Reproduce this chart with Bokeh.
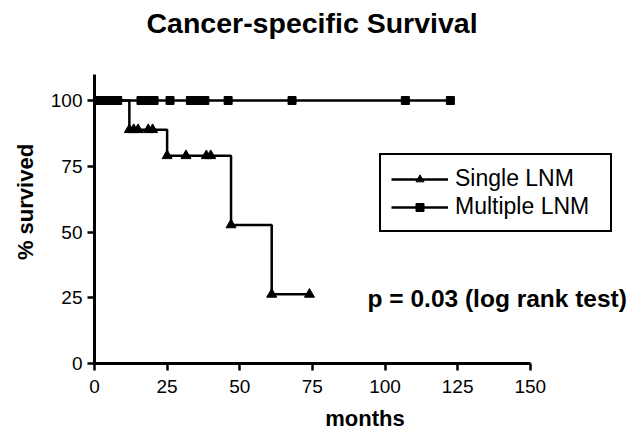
from bokeh.plotting import figure
from bokeh.models import Range1d, Legend, LegendItem, FixedTicker, Label
from bokeh.embed import file_html
from bokeh.resources import INLINE

# ---- data ----
chart_title = "Cancer-specific Survival"
x_label = "months"
y_label = "% survived"
p_text = "p = 0.03 (log rank test)"
series_names = ["Single LNM", "Multiple LNM"]

single_step_t = [0, 12, 25, 47, 61, 74]
single_step_s = [100, 88.9, 79.0, 52.7, 26.3, 26.3]
single_mark_t = [12, 13.5, 15, 18.5, 20, 25, 31.5, 38.5, 40, 47, 61, 74]
single_mark_s = [88.9, 88.9, 88.9, 88.9, 88.9, 79.0, 79.0, 79.0, 79.0, 52.7, 26.3, 26.3]

multi_step_t = [0, 123]
multi_step_s = [100, 100]
multi_mark_t = [0.5, 2.5, 4.5, 6.5, 8, 16, 18, 20.5, 26, 33, 35, 36.5, 38, 46, 68, 107, 122.5]
multi_mark_s = [100, 100, 100, 100, 100, 100, 100, 100, 100, 100, 100, 100, 100, 100, 100, 100, 100]

x_ticks = [0, 25, 50, 75, 100, 125, 150]
y_ticks = [0, 25, 50, 75, 100]

FONT = "Liberation Sans"

# ---- layout (pixels) ----
W, H = 635, 433
LEFT, RIGHT, TOP, BOTTOM = 94, 0, 40, 70
PX_X, PX_Y = 2.905, 2.63  # pixels per data unit
x_end = (W - LEFT - RIGHT) / PX_X
y_end = (H - TOP - BOTTOM) / PX_Y

p = figure(width=W, height=H, x_range=Range1d(0, x_end), y_range=Range1d(0, y_end),
           output_backend="svg", toolbar_location=None,
           min_border_left=LEFT, min_border_right=RIGHT, min_border_top=TOP,
           min_border_bottom=BOTTOM)
p.outline_line_color = None
p.grid.visible = False
p.background_fill_color = "white"
p.border_fill_color = "white"

p.title.text = chart_title
p.title.align = "left"
p.title.offset = 52
p.title.text_font = FONT
p.title.text_font_size = "28.5px"
p.title.text_font_style = "bold"
p.title.text_color = "black"
p.title.standoff = 3

for ax, ticks, bounds in ((p.xaxis, x_ticks, (0, 150)), (p.yaxis, y_ticks, (0, 110))):
    ax.ticker = FixedTicker(ticks=ticks)
    ax.bounds = bounds
    ax.axis_line_width = 3
    ax.axis_line_color = "black"
    ax.major_tick_line_width = 2.5
    ax.major_tick_line_color = "black"
    ax.major_tick_out = 7
    ax.major_tick_in = 0
    ax.minor_tick_line_color = None
    ax.major_label_text_font = FONT
    ax.major_label_text_font_size = "19px"
    ax.major_label_text_color = "black"
    ax.axis_label_text_font = FONT
    ax.axis_label_text_font_size = "22px"
    ax.axis_label_text_font_style = "bold"
    ax.axis_label_text_color = "black"
p.xaxis.axis_label = x_label
p.yaxis.axis_label = y_label
p.xaxis.major_label_standoff = 9
p.yaxis.major_label_standoff = 5
p.xaxis.axis_label_standoff = 10
p.yaxis.axis_label_standoff = 10

r1 = p.step(single_step_t, single_step_s, mode="after", line_width=2.5, line_color="black")
m1 = p.scatter(single_mark_t, single_mark_s, marker="triangle", size=10, color="black")
r2 = p.step(multi_step_t, multi_step_s, mode="after", line_width=2.5, line_color="black")
m2 = p.scatter(multi_mark_t, multi_mark_s, marker="square", size=8, color="black")

legend = Legend(items=[LegendItem(label=series_names[0], renderers=[r1, m1]),
                       LegendItem(label=series_names[1], renderers=[r2, m2])],
                location=(285, 131))
legend.border_line_color = "black"
legend.border_line_alpha = 1
legend.border_line_width = 2.5
legend.background_fill_color = "white"
legend.background_fill_alpha = 1
legend.label_text_font = FONT
legend.label_text_font_size = "23px"
legend.label_text_color = "black"
legend.glyph_width = 57
legend.glyph_height = 20
legend.label_standoff = 7
legend.label_width = 145
legend.padding = 10
legend.spacing = 1
legend.margin = 0
p.add_layout(legend)

p.add_layout(Label(x=94, y=24.9, text=p_text, text_font=FONT, text_font_size="24.5px",
                   text_font_style="bold", text_align="left", text_baseline="middle",
                   text_color="black"))

open("out.html", "w").write(file_html(p, INLINE))
